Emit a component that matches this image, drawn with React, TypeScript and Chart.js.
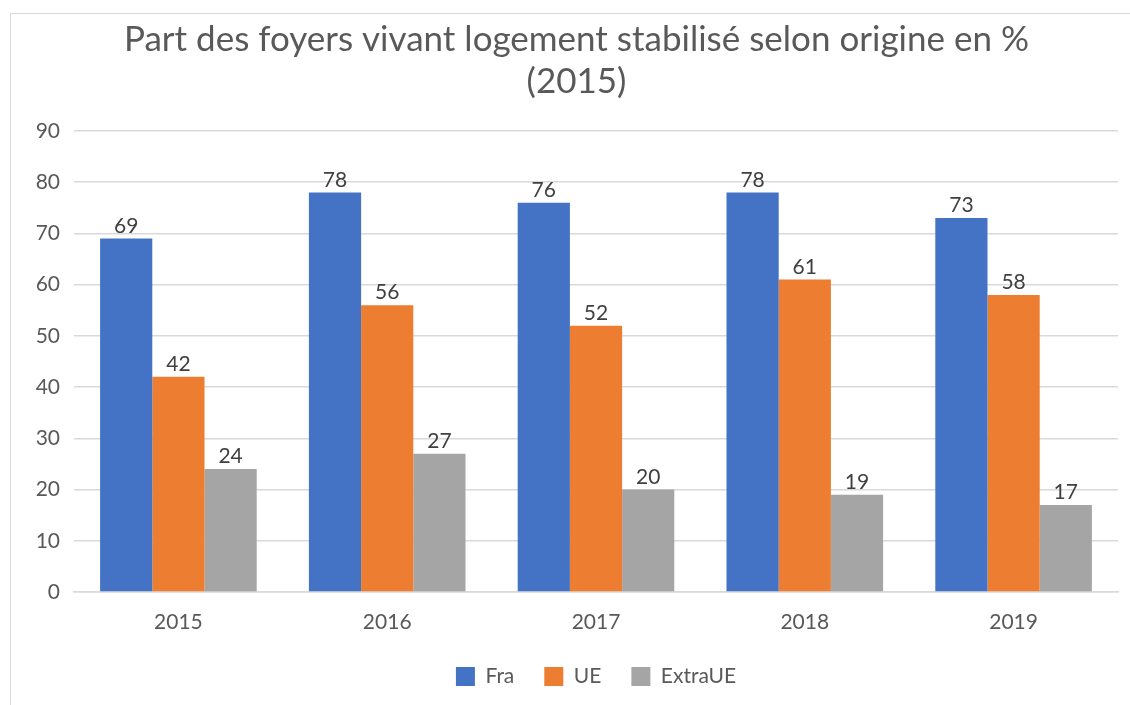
import React, { useEffect, useRef } from "react";
import { Chart, registerables } from "chart.js";

Chart.register(...registerables);

const categories = ["2015", "2016", "2017", "2018", "2019"];
const fraValues = [69, 78, 76, 78, 73];
const ueValues = [42, 56, 52, 61, 58];
const extraUeValues = [24, 27, 20, 19, 17];
const titleLines = ["Part des foyers vivant logement stabilisé selon origine en %", "(2015)"];

const FONT = "Lato, 'Open Sans', sans-serif";

const dataLabels = {
  id: "dataLabels",
  afterDatasetsDraw(chart: any) {
    const ctx = chart.ctx;
    ctx.save();
    ctx.font = `21px ${FONT}`;
    ctx.fillStyle = "#404040";
    ctx.textAlign = "center";
    ctx.textBaseline = "bottom";
    chart.data.datasets.forEach((ds: any, i: number) => {
      const meta = chart.getDatasetMeta(i);
      meta.data.forEach((bar: any, j: number) => {
        ctx.fillText(String(ds.data[j]), bar.x, bar.y - 2);
      });
    });
    ctx.restore();
  },
};

export default function App() {
  const ref = useRef<HTMLCanvasElement>(null);
  useEffect(() => {
    if (!ref.current) return;
    const chart = new Chart(ref.current, {
      type: "bar",
      data: {
        labels: categories,
        datasets: [
          { label: "Fra", data: fraValues, backgroundColor: "#4472C4" },
          { label: "UE", data: ueValues, backgroundColor: "#ED7D31" },
          { label: "ExtraUE", data: extraUeValues, backgroundColor: "#A5A5A5" },
        ],
      },
      options: {
        responsive: false,
        animation: false,
        layout: { padding: { left: 24, right: 12, top: 0, bottom: 8 } },
        datasets: { bar: { categoryPercentage: 0.75, barPercentage: 1.0 } },
        scales: {
          x: {
            grid: { display: false, drawTicks: false },
            border: { display: true, color: "#d9d9d9", width: 1.5 },
            ticks: { color: "#595959", font: { family: FONT, size: 21 }, padding: 18 },
            afterFit: (scale: any) => {
              scale.height = 44;
            },
          },
          y: {
            min: 0,
            max: 90,
            ticks: { stepSize: 10, color: "#595959", font: { family: FONT, size: 21 }, padding: 14 },
            grid: { color: "#d9d9d9", drawTicks: false, lineWidth: 1.5 },
            border: { display: false },
            afterFit: (scale: any) => {
              scale.width = 39;
            },
          },
        },
        plugins: {
          title: {
            display: true,
            text: titleLines,
            color: "#595959",
            font: { family: FONT, size: 35, weight: "normal", lineHeight: 1.2 },
            padding: { top: 5, bottom: 28 },
          },
          legend: {
            position: "bottom",
            fullSize: false,
            labels: {
              color: "#595959",
              font: { family: FONT, size: 21 },
              boxWidth: 19,
              boxHeight: 19,
              padding: 30,
            },
          },
          tooltip: { enabled: false },
        },
      },
      plugins: [dataLabels],
    });
    return () => chart.destroy();
  }, []);
  return (
    <div
      style={{
        position: "absolute",
        left: 10,
        top: 13,
        width: 1130,
        height: 700,
        borderTop: "1px solid #d9d9d9",
        borderLeft: "1px solid #d9d9d9",
        background: "#fff",
      }}
    >
      <canvas ref={ref} width={1119} height={691} style={{ display: "block" }} />
    </div>
  );
}
